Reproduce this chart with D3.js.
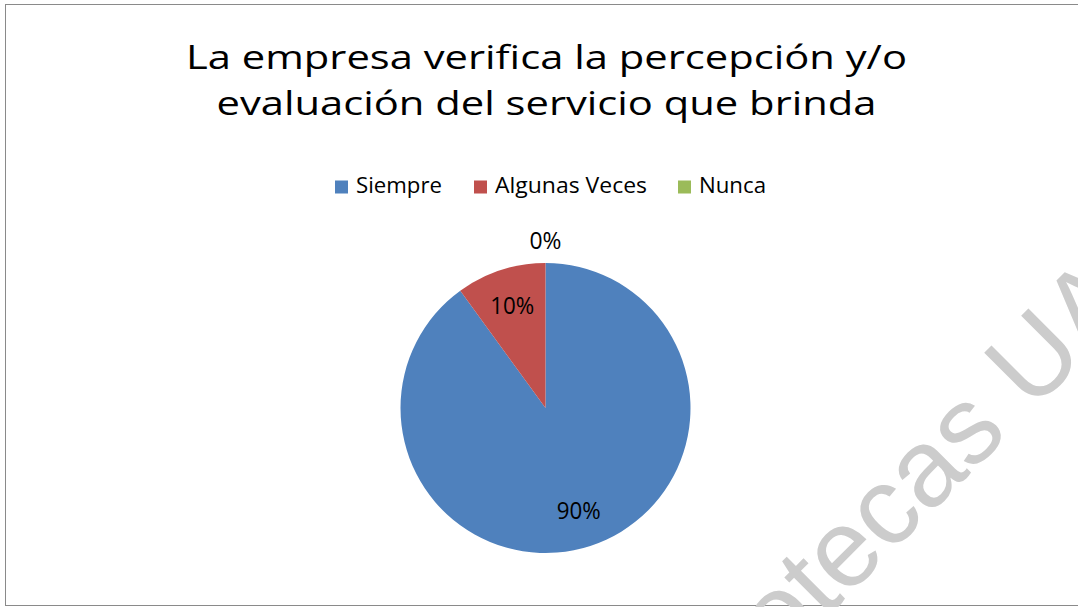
<!DOCTYPE html>
<html>
<head>
<meta charset="utf-8">
<script src="https://cdn.jsdelivr.net/npm/d3@7"></script>
<style>
  html, body { margin: 0; padding: 0; background: #fff; overflow: hidden; }
  svg { display: block; }
</style>
</head>
<body>
<div id="chart"></div>
<script>
// data
const categories = ["Siempre", "Algunas Veces", "Nunca"];
const values = [90, 10, 0];
const colors = ["#4F81BD", "#C0504D", "#9BBB59"];
const titleLines = ["La empresa verifica la percepción y/o", "evaluación del servicio que brinda"];
const watermark = "Bibliotecas UA";

const width = 1078, height = 607;
const cx = 545.5, cy = 408, radius = 145;
const font = "'Open Sans', 'Noto Sans', sans-serif";

const svg = d3.select("#chart").append("svg")
    .attr("width", width)
    .attr("height", height)
    .attr("viewBox", [0, 0, width, height]);

// chart frame (right edge runs off the picture)
svg.append("rect")
    .attr("x", 5.5).attr("y", 4.5)
    .attr("width", width + 20).attr("height", 601)
    .attr("fill", "#fff")
    .attr("stroke", "#8a8a8a")
    .attr("stroke-width", 1);

// squeeze / stretch a text to the width it has in the picture
function fit(sel, w) {
    sel.attr("textLength", w).attr("lengthAdjust", "spacingAndGlyphs");
}

// title
const titleWidths = [721, 660];
const titleBase = [69, 115];
titleLines.forEach((t, i) => {
    svg.append("text")
        .attr("x", 546.5)
        .attr("y", titleBase[i])
        .attr("text-anchor", "middle")
        .attr("font-family", font)
        .attr("font-size", 33.5)
        .attr("fill", "#000")
        .text(t)
        .call(fit, titleWidths[i]);
});

// legend
const legendX = [335, 474, 678];
const legendTextW = [86, 152, 67];
const legend = svg.append("g")
    .selectAll("g")
    .data(categories)
    .join("g")
    .attr("transform", (d, i) => `translate(${legendX[i]},0)`);

legend.append("rect")
    .attr("x", 0).attr("y", 180.5)
    .attr("width", 13).attr("height", 13)
    .attr("fill", (d, i) => colors[i]);

legend.append("text")
    .attr("x", 21)
    .attr("y", 193)
    .attr("font-family", font)
    .attr("font-size", 21)
    .attr("fill", "#000")
    .text(d => d)
    .each(function (d, i) { d3.select(this).call(fit, legendTextW[i]); });

// pie
const pie = d3.pie().sort(null).value(d => d)(values);
const arc = d3.arc().innerRadius(0).outerRadius(radius);

const g = svg.append("g").attr("transform", `translate(${cx},${cy})`);

g.selectAll("path")
    .data(pie)
    .join("path")
    .attr("d", arc)
    .attr("fill", (d, i) => colors[i]);

// labels: inside for real slices, outside for the empty one
const inner = d3.arc().innerRadius(radius * 0.74).outerRadius(radius * 0.74);
const outer = d3.arc().innerRadius(radius + 22).outerRadius(radius + 22);

g.selectAll("text.lbl")
    .data(pie)
    .join("text")
    .attr("class", "lbl")
    .attr("transform", d => `translate(${(d.value > 0 ? inner : outer).centroid(d)})`)
    .attr("text-anchor", "middle")
    .attr("dy", "0.36em")
    .attr("font-family", font)
    .attr("font-size", 23.5)
    .attr("fill", "#000")
    .text(d => d3.format(".0%")(d.value / d3.sum(values)))
    .each(function (d) {
        const n = d3.select(this).text().length;
        d3.select(this).call(fit, n === 3 ? 44 : 32);
    });

// watermark of the source document, partly outside the picture as in the scan
svg.append("text")
    .attr("transform", "translate(634,810) rotate(-45)")
    .attr("font-family", "'Liberation Sans', Arial, sans-serif")
    .attr("font-size", 110)
    .attr("fill", "#cccccc")
    .text(watermark);
</script>
</body>
</html>
